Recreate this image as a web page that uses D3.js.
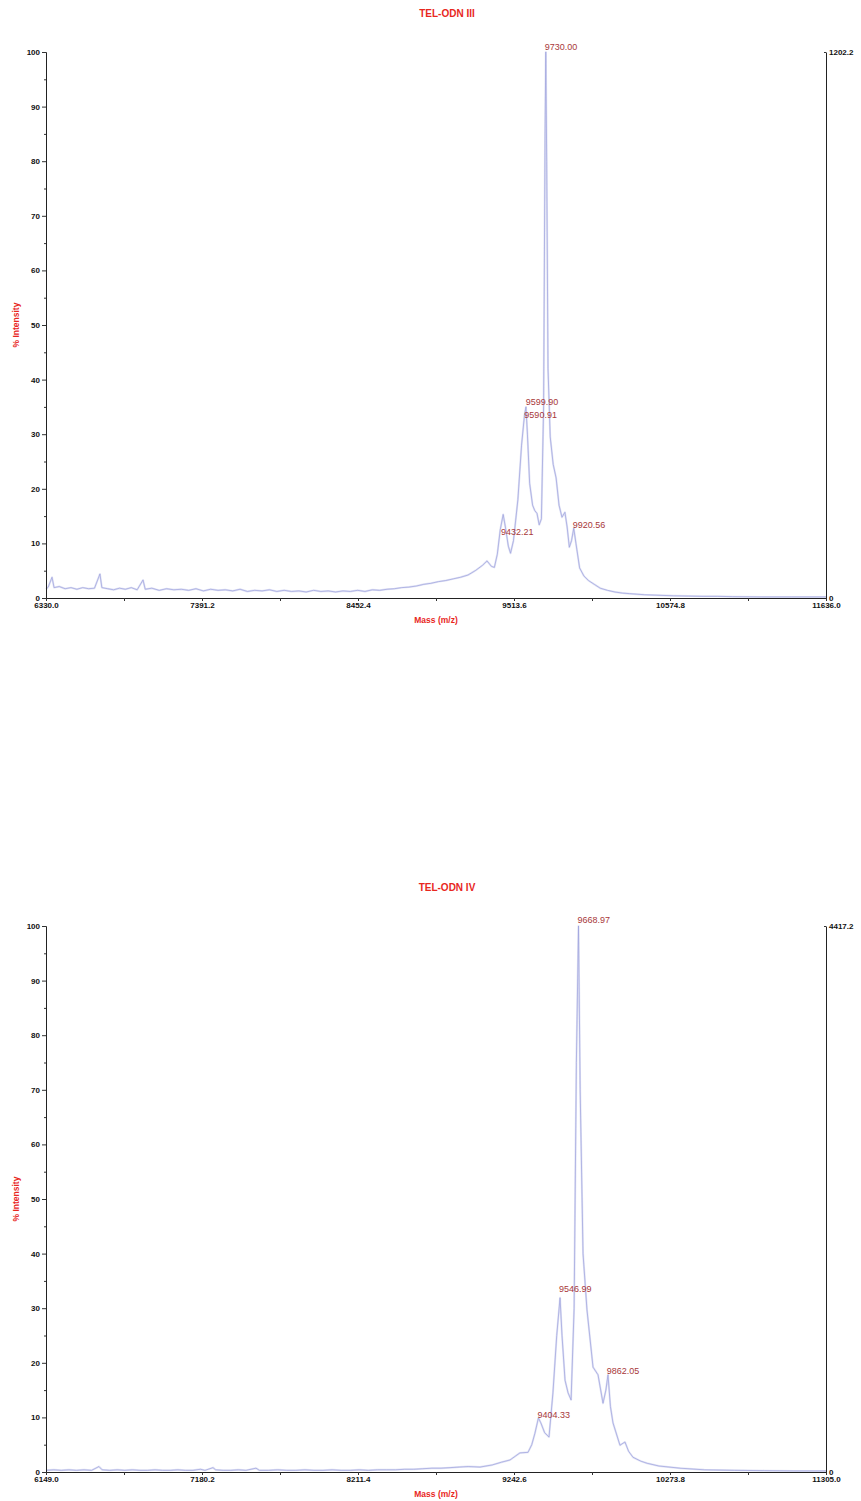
<!DOCTYPE html>
<html>
<head>
<meta charset="utf-8">
<script src="https://cdn.jsdelivr.net/npm/d3@7"></script>
<style>
  body { margin: 0; background: #fff; }
  svg { display: block; font-family: "Liberation Sans", Arial, sans-serif; }
</style>
</head>
<body>
<svg id="chart" width="861" height="1501"></svg>
<script>
// spectrum 1 : TEL-ODN III
const title1 = "TEL-ODN III";
const xTicks1 = [6330.0, 7391.2, 8452.4, 9513.6, 10574.8, 11636.0];
const maxCounts1 = "1202.2";
const mass1 = [6330, 6345, 6371, 6385, 6420, 6460, 6500, 6540, 6580, 6620, 6660, 6697, 6710, 6750, 6790, 6830, 6870, 6910, 6950, 6990,
    7005, 7050, 7100, 7150, 7200, 7250, 7300, 7350, 7400, 7450, 7500, 7550, 7600, 7650, 7700, 7750, 7800, 7850, 7900, 7950,
    8000, 8050, 8100, 8150, 8200, 8250, 8300, 8350, 8400, 8450, 8500, 8550, 8600, 8650, 8700, 8750, 8800, 8850, 8900, 8950,
    9000, 9050, 9100, 9150, 9200, 9250, 9300, 9330, 9360, 9380, 9400, 9420, 9440, 9455, 9475, 9490, 9510, 9540, 9565, 9585,
    9595, 9605, 9620, 9640, 9655, 9670, 9685, 9700, 9715, 9725, 9730, 9736, 9745, 9760, 9780, 9800, 9820, 9840, 9860, 9875,
    9890, 9905, 9920, 9935, 9960, 9990, 10020, 10060, 10100, 10150, 10200, 10250, 10300, 10400, 10500, 10600, 10700, 10800, 10900, 11000,
    11200, 11400, 11636];
const int1 = [1.6, 2.0, 3.8, 1.9, 2.1, 1.7, 1.9, 1.6, 1.9, 1.7, 1.8, 4.4, 1.9, 1.7, 1.5, 1.8, 1.6, 1.9, 1.5, 3.3,
    1.6, 1.8, 1.4, 1.7, 1.5, 1.6, 1.4, 1.7, 1.3, 1.6, 1.4, 1.5, 1.3, 1.6, 1.2, 1.4, 1.3, 1.5, 1.2, 1.4,
    1.2, 1.3, 1.1, 1.4, 1.2, 1.3, 1.1, 1.3, 1.2, 1.4, 1.2, 1.5, 1.4, 1.6, 1.7, 1.9, 2.0, 2.2, 2.5, 2.7,
    3.0, 3.2, 3.5, 3.8, 4.2, 5.0, 6.0, 6.8, 5.8, 5.6, 8.0, 12.5, 15.3, 13.0, 9.5, 8.2, 10.5, 18.0, 28.0, 33.5,
    35.0, 30.0, 21.0, 17.0, 16.0, 15.5, 13.4, 14.5, 35.0, 85.0, 100.0, 80.0, 42.0, 29.5, 24.5, 22.0, 17.0, 14.8, 15.7, 13.0,
    9.3, 10.5, 12.8, 10.0, 5.5, 4.0, 3.2, 2.5, 1.8, 1.4, 1.1, 0.9, 0.8, 0.6, 0.5, 0.4, 0.35, 0.3, 0.3, 0.25,
    0.2, 0.2, 0.2];
const peakMass1 = [9730.00, 9599.90, 9590.91, 9432.21, 9920.56];
const peakInt1 = [100.4, 35.3, 33.0, 11.5, 12.8];

// spectrum 2 : TEL-ODN IV
const title2 = "TEL-ODN IV";
const xTicks2 = [6149.0, 7180.2, 8211.4, 9242.6, 10273.8, 11305.0];
const maxCounts2 = "4417.2";
const mass2 = [6149, 6200, 6250, 6300, 6350, 6400, 6450, 6499, 6520, 6570, 6620, 6670, 6720, 6770, 6820, 6870, 6920, 6970, 7020, 7070,
    7120, 7170, 7200, 7253, 7270, 7320, 7370, 7420, 7470, 7537, 7560, 7620, 7680, 7740, 7800, 7860, 7920, 7980, 8040, 8100,
    8160, 8220, 8280, 8340, 8400, 8460, 8520, 8580, 8640, 8700, 8760, 8820, 8880, 8940, 9018, 9100, 9160, 9216, 9282, 9335,
    9360, 9381, 9404, 9420, 9445, 9474, 9500, 9525, 9547, 9560, 9580, 9600, 9620, 9640, 9655, 9669, 9680, 9699, 9725, 9765,
    9798, 9831, 9850, 9864, 9880, 9897, 9943, 9976, 10000, 10029, 10080, 10122, 10200, 10340, 10500, 10700, 10900, 11100, 11305];
const int2 = [0.3, 0.4, 0.3, 0.4, 0.3, 0.4, 0.3, 1.0, 0.4, 0.3, 0.4, 0.3, 0.4, 0.3, 0.3, 0.4, 0.3, 0.3, 0.4, 0.3,
    0.3, 0.5, 0.3, 0.8, 0.4, 0.3, 0.3, 0.4, 0.3, 0.7, 0.3, 0.3, 0.4, 0.3, 0.3, 0.4, 0.3, 0.3, 0.4, 0.3,
    0.3, 0.4, 0.3, 0.4, 0.4, 0.4, 0.5, 0.5, 0.6, 0.7, 0.7, 0.8, 0.9, 1.0, 0.9, 1.3, 1.8, 2.2, 3.5, 3.6,
    5.0, 7.1, 9.9, 9.0, 7.2, 6.4, 14.5, 25.0, 31.9, 25.0, 16.8, 14.5, 13.2, 30.0, 75.0, 100.0, 70.0, 40.0, 29.7, 19.2,
    17.8, 12.6, 15.0, 17.8, 12.0, 9.0, 4.9, 5.5, 3.8, 2.7, 2.0, 1.6, 1.1, 0.7, 0.4, 0.3, 0.25, 0.2, 0.2];
const peakMass2 = [9668.97, 9546.99, 9862.05, 9404.33];
const peakInt2 = [100.5, 33.0, 18.0, 9.9];

const yTicks = d3.range(0, 101, 10);

const svg = d3.select("#chart");

function drawSpectrum(top, title, xTicks, maxCounts, mass, inten, peakMass, peakInt) {
    const left = 46, right = 826, height = 546;
    const g = svg.append("g").attr("transform", `translate(0,${top})`);

    const x = d3.scaleLinear().domain([xTicks[0], xTicks[xTicks.length - 1]]).range([left, right]);
    const y = d3.scaleLinear().domain([0, 100]).range([height, 0]);

    // title
    g.append("text")
        .attr("x", 447).attr("y", -35)
        .attr("text-anchor", "middle")
        .attr("font-size", 10).attr("font-weight", "bold")
        .attr("fill", "#e8271e")
        .text(title);

    // spectrum trace: faint wide band + thin line
    const pts = mass.map((m, i) => [m, inten[i]]);
    const line = d3.line().x(d => x(d[0])).y(d => y(d[1]));
    g.append("path")
        .datum(pts)
        .attr("d", line)
        .attr("fill", "none")
        .attr("stroke", "#c4c7ec")
        .attr("stroke-width", 2)
        .attr("stroke-opacity", 0.5)
        .attr("stroke-linejoin", "round");
    g.append("path")
        .datum(pts)
        .attr("d", line)
        .attr("fill", "none")
        .attr("stroke", "#9ca1dc")
        .attr("stroke-width", 0.7)
        .attr("stroke-linejoin", "round");

    // left axis
    const yAxis = g.append("g").attr("transform", `translate(${left},0)`)
        .call(d3.axisLeft(y).tickValues(yTicks).tickSize(4).tickPadding(2).tickFormat(d3.format("d")));
    g.append("g").attr("transform", `translate(${left},0)`)
        .call(d3.axisLeft(y).tickValues(d3.range(5, 100, 10)).tickSize(2).tickFormat(""))
        .select(".domain").remove();

    // bottom axis
    const minorX = xTicks.slice(1).map((t, i) => (t + xTicks[i]) / 2);
    const xAxis = g.append("g").attr("transform", `translate(0,${height})`)
        .call(d3.axisBottom(x).tickValues(xTicks).tickSize(3).tickPadding(1).tickFormat(d3.format(".1f")));
    g.append("g").attr("transform", `translate(0,${height})`)
        .call(d3.axisBottom(x).tickValues(minorX).tickSize(3).tickFormat(""))
        .select(".domain").remove();

    // right axis (absolute counts)
    const rAxis = g.append("g").attr("transform", `translate(${right},0)`)
        .call(d3.axisRight(y).tickValues([0, 100]).tickSize(0).tickPadding(3)
            .tickFormat(d => d === 0 ? "0" : maxCounts));
    rAxis.selectAll(".tick").filter(d => d === 100).append("line")
        .attr("x1", 0).attr("x2", -2).attr("stroke", "#000");

    [yAxis, xAxis, rAxis].forEach(a => {
        a.selectAll("text").attr("font-size", 8).attr("font-weight", "bold")
            .attr("font-family", "Liberation Sans, Arial, sans-serif").attr("fill", "#111");
        a.select(".domain").attr("stroke", "#222");
    });
    svg.selectAll(".tick line").attr("stroke", "#333");

    // axis titles
    g.append("text")
        .attr("x", 436).attr("y", height + 25)
        .attr("text-anchor", "middle")
        .attr("font-size", 8.5).attr("font-weight", "bold").attr("fill", "#e8271e")
        .text("Mass (m/z)");
    g.append("text")
        .attr("transform", `translate(19,${height / 2}) rotate(-90)`)
        .attr("text-anchor", "middle")
        .attr("font-size", 8.5).attr("font-weight", "bold").attr("fill", "#e8271e")
        .text("% Intensity");

    // peak labels
    g.selectAll(".peak")
        .data(peakMass.map((m, i) => [m, peakInt[i]]))
        .enter().append("text")
        .attr("class", "peak")
        .attr("x", d => x(d[0]) - 1)
        .attr("y", d => y(d[1]))
        .attr("font-size", 9).attr("fill", "#a8383a")
        .text(d => d[0].toFixed(2));
}

drawSpectrum(52, title1, xTicks1, maxCounts1, mass1, int1, peakMass1, peakInt1);
drawSpectrum(926, title2, xTicks2, maxCounts2, mass2, int2, peakMass2, peakInt2);
</script>
</body>
</html>
